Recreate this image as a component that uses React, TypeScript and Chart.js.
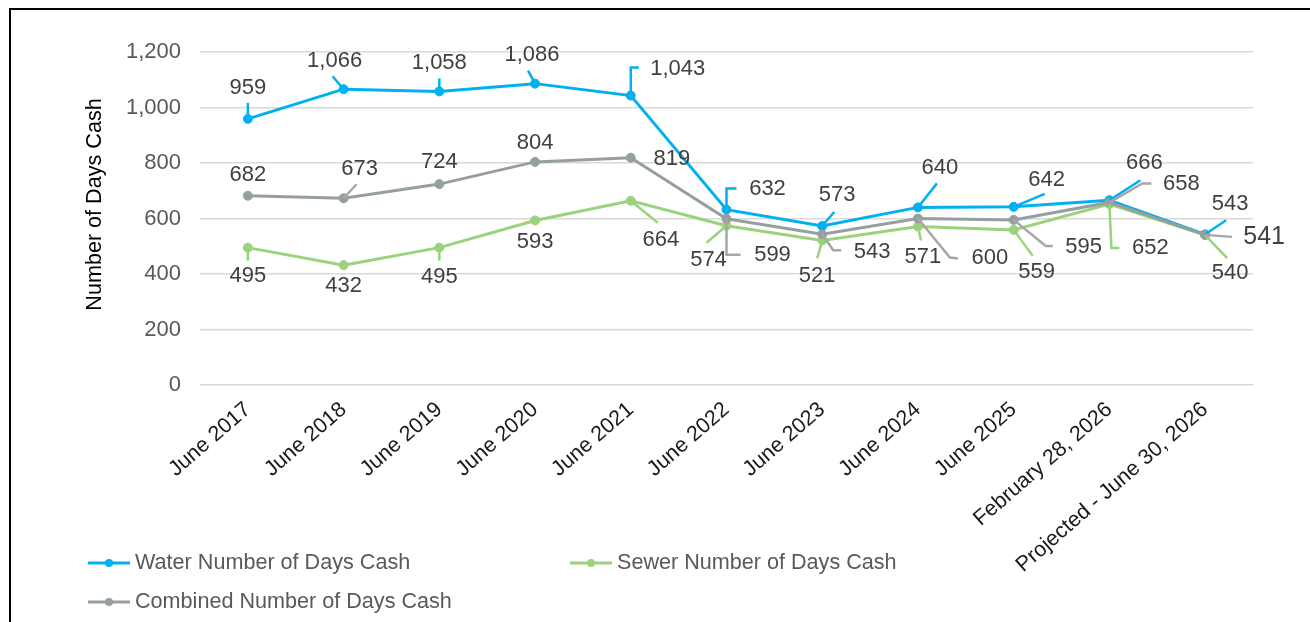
import { useEffect, useRef } from 'react';
import { Chart, registerables } from 'chart.js';

Chart.register(...registerables);

const categories = [
  'June 2017',
  'June 2018',
  'June 2019',
  'June 2020',
  'June 2021',
  'June 2022',
  'June 2023',
  'June 2024',
  'June 2025',
  'February 28, 2026',
  'Projected - June 30, 2026',
];
const waterDays = [959, 1066, 1058, 1086, 1043, 632, 573, 640, 642, 666, 543];
const sewerDays = [495, 432, 495, 593, 664, 574, 521, 571, 559, 652, 540];
const combinedDays = [682, 673, 724, 804, 819, 599, 543, 600, 595, 658, 541];
const seriesNames = ['Water Number of Days Cash', 'Sewer Number of Days Cash', 'Combined Number of Days Cash'];
const yTickValues = [0, 200, 400, 600, 800, 1000, 1200];
const yTitle = 'Number of Days Cash';

const FONT = '"Liberation Sans", Arial, sans-serif';
const BLUE = '#00B0F0';
const GREEN = '#9BD27E';
const GRAY = '#959F9F';
const GRAY_LEADER = '#A6A6A6';
const LABEL_COLOR = '#404040';
const TEXT_SIZE = 22;
const LEGEND_SIZE = 21.6;

type Pt = [number, number];
type LabelStyle = { off: Pt; leader: Pt[] | null; size?: number };

// label placement (pixel offsets from point) — styling only
const waterLabelStyle: LabelStyle[] = [
  { off: [0, -31], leader: [[0, 0], [0, -16]] },
  { off: [-9, -28], leader: [[0, 0], [-11, -13]] },
  { off: [0, -28], leader: [[0, 0], [0, -13]] },
  { off: [-3, -29], leader: [[0, 0], [-7, -13]] },
  { off: [47, -27], leader: [[0, 0], [0, -28], [8, -28]] },
  { off: [41, -21], leader: [[0, 0], [0, -21], [10, -21]] },
  { off: [15, -31], leader: [[0, 0], [12, -14]] },
  { off: [22, -39], leader: [[0, 0], [19, -24]] },
  { off: [33, -27], leader: [[0, 0], [31, -13]] },
  { off: [35, -37], leader: [[0, 0], [31, -20]] },
  { off: [25, -30], leader: [[0, 0], [21, -14]] },
];
const sewerLabelStyle: LabelStyle[] = [
  { off: [0, 28], leader: [[0, 0], [0, 13]] },
  { off: [0, 21], leader: null },
  { off: [0, 29], leader: [[0, 0], [0, 13]] },
  { off: [0, 21], leader: null },
  { off: [30, 39], leader: [[0, 0], [27, 22]] },
  { off: [-18, 34], leader: [[0, 0], [-20, 17]] },
  { off: [-5, 36], leader: [[0, 0], [-5, 18]] },
  { off: [5, 30], leader: [[0, 0], [3, 14]] },
  { off: [23, 42], leader: [[0, 0], [19, 26]] },
  { off: [41, 44], leader: [[0, 0], [2, 44], [10, 44]] },
  { off: [25, 38], leader: [[0, 0], [22, 23]] },
];
const combinedLabelStyle: LabelStyle[] = [
  { off: [0, -21], leader: null },
  { off: [16, -29], leader: [[0, 0], [13, -14]] },
  { off: [0, -22], leader: null },
  { off: [0, -19], leader: null },
  { off: [41, 1], leader: null },
  { off: [46, 36], leader: [[0, 0], [0, 36], [14, 36]] },
  { off: [50, 18], leader: [[0, 0], [11, 16], [19, 16]] },
  { off: [72, 39], leader: [[0, 0], [32, 39], [40, 40]] },
  { off: [70, 27], leader: [[0, 0], [32, 26], [39, 26]] },
  { off: [72, -18], leader: [[0, 0], [33, -19], [42, -19]] },
  { off: [59, 2], leader: [[0, 0], [27, 2]], size: 25 },
];

const labelStyles = [waterLabelStyle, sewerLabelStyle, combinedLabelStyle];
const leaderColors = [BLUE, GREEN, GRAY_LEADER];
const seriesColors = [BLUE, GREEN, GRAY];

const fmt = (v: number) => v.toLocaleString('en-US');

const decorPlugin = {
  id: 'decor',
  afterDatasetsDraw(chart: any) {
    const ctx = chart.ctx;
    ctx.save();
    chart.data.datasets.forEach((ds: any, di: number) => {
      const meta = chart.getDatasetMeta(di);
      const styles = labelStyles[di];
      meta.data.forEach((el: any, i: number) => {
        const st = styles[i];
        const x = el.x;
        const y = el.y;
        if (st.leader) {
          ctx.beginPath();
          ctx.strokeStyle = leaderColors[di];
          ctx.lineWidth = 2.5;
          ctx.lineJoin = 'miter';
          st.leader.forEach((p, k) => {
            if (k === 0) ctx.moveTo(x + p[0], y + p[1]);
            else ctx.lineTo(x + p[0], y + p[1]);
          });
          ctx.stroke();
        }
        ctx.fillStyle = LABEL_COLOR;
        ctx.font = `${st.size || TEXT_SIZE}px ${FONT}`;
        ctx.textAlign = 'center';
        ctx.textBaseline = 'middle';
        ctx.fillText(fmt(ds.data[i]), x + st.off[0], y + st.off[1]);
      });
    });
    ctx.restore();
  },
  afterDraw(chart: any) {
    const ctx = chart.ctx;
    ctx.save();
    // y axis title
    ctx.translate(95, (chart.chartArea.top + chart.chartArea.bottom) / 2 - 14);
    ctx.rotate(-Math.PI / 2);
    ctx.fillStyle = '#000000';
    ctx.font = `${LEGEND_SIZE}px ${FONT}`;
    ctx.textAlign = 'center';
    ctx.textBaseline = 'middle';
    ctx.fillText(yTitle, 0, 0);
    ctx.restore();

    // legend
    ctx.save();
    const items: [number, number][] = [
      [88, 563],
      [570, 563],
      [88, 602],
    ];
    items.forEach(([lx, ly], i) => {
      ctx.strokeStyle = seriesColors[i];
      ctx.lineWidth = 3;
      ctx.beginPath();
      ctx.moveTo(lx, ly);
      ctx.lineTo(lx + 42, ly);
      ctx.stroke();
      ctx.fillStyle = seriesColors[i];
      ctx.beginPath();
      ctx.arc(lx + 21, ly, 4, 0, Math.PI * 2);
      ctx.fill();
      ctx.fillStyle = '#595959';
      ctx.font = `${LEGEND_SIZE}px ${FONT}`;
      ctx.textAlign = 'left';
      ctx.textBaseline = 'middle';
      ctx.fillText(seriesNames[i], lx + 47, ly);
    });
    ctx.restore();

    // frame
    ctx.save();
    ctx.strokeStyle = '#000000';
    ctx.lineWidth = 2;
    ctx.strokeRect(10, 9, 1400, 1000);
    ctx.restore();
  },
};

export default function App() {
  const ref = useRef<HTMLCanvasElement | null>(null);
  useEffect(() => {
    if (!ref.current) return;
    const mk = (label: string, data: number[], color: string, order: number) => ({
      label,
      data,
      borderColor: color,
      backgroundColor: color,
      pointBackgroundColor: color,
      pointBorderColor: color,
      pointBorderWidth: 1,
      pointRadius: 4.5,
      borderWidth: 3,
      tension: 0,
      order,
    });
    const chart = new Chart(ref.current, {
      type: 'line',
      data: {
        labels: categories,
        datasets: [
          mk(seriesNames[0], waterDays, BLUE, 2),
          mk(seriesNames[1], sewerDays, GREEN, 1),
          mk(seriesNames[2], combinedDays, GRAY, 0),
        ],
      },
      options: {
        animation: false,
        responsive: false,
        maintainAspectRatio: false,
        layout: { padding: { left: 0, right: 57, top: 52, bottom: 0 } },
        plugins: {
          legend: { display: false },
          tooltip: { enabled: false },
        },
        scales: {
          x: {
            offset: true,
            grid: { display: false, drawTicks: false },
            border: { display: false },
            ticks: {
              autoSkip: false,
              minRotation: 41,
              maxRotation: 41,
              padding: 12,
              color: '#1a1a1a',
              font: { family: FONT, size: 21.5 },
            },
            afterFit: (s: any) => {
              s.height = 622 - 385;
            },
          },
          y: {
            min: 0,
            max: 1200,
            afterBuildTicks: (s: any) => {
              s.ticks = yTickValues.map((v) => ({ value: v }));
            },
            grid: { color: '#D9D9D9', lineWidth: 1.5, drawTicks: false },
            border: { display: false },
            ticks: {
              padding: 19,
              color: '#595959',
              font: { family: FONT, size: TEXT_SIZE },
              callback: (v: any) => fmt(Number(v)),
            },
            afterFit: (s: any) => {
              s.width = 200;
            },
          },
        },
      },
      plugins: [decorPlugin],
    });
    return () => chart.destroy();
  }, []);
  return (
    <div style={{ position: 'fixed', left: 0, top: 0, width: 1310, height: 622, background: '#fff' }}>
      <canvas ref={ref} width={1310} height={622} style={{ width: 1310, height: 622 }} />
    </div>
  );
}
